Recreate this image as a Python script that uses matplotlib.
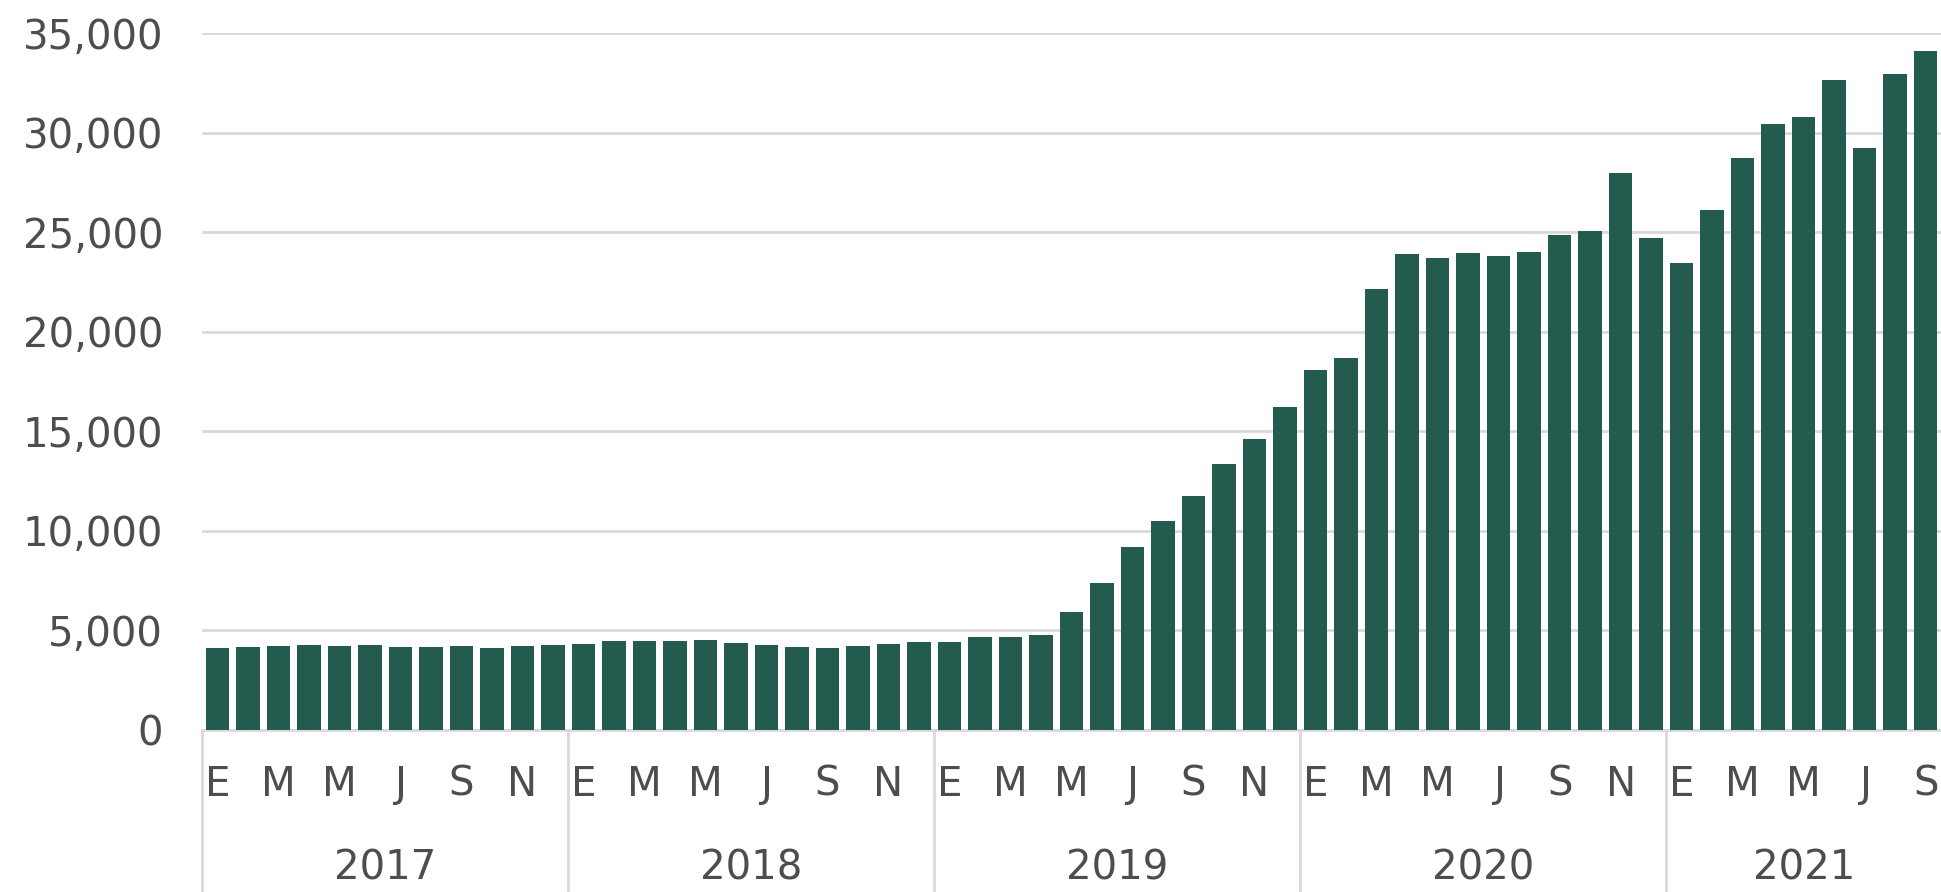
import matplotlib
matplotlib.use("Agg")
import matplotlib.pyplot as plt
import matplotlib.transforms as mtransforms

years = ["2017", "2018", "2019", "2020", "2021"]
month_letters = ["E", "F", "M", "A", "M", "J", "J", "A", "S", "O", "N", "D"]

v2017 = [4140, 4170, 4200, 4250, 4230, 4250, 4170, 4170, 4200, 4140, 4200, 4250]
v2018 = [4340, 4480, 4480, 4480, 4510, 4370, 4250, 4170, 4140, 4200, 4310, 4400]
v2019 = [4400, 4680, 4680, 4770, 5940, 7370, 9190, 10510, 11730, 13360, 14590, 16220]
v2020 = [18100, 18700, 22150, 23920, 23700, 23950, 23810, 23980, 24870, 25070, 27980, 24720]
v2021 = [23440, 26090, 28720, 30430, 30800, 32630, 29230, 32950, 34120]

yticks = [0, 5000, 10000, 15000, 20000, 25000, 30000, 35000]

values = v2017 + v2018 + v2019 + v2020 + v2021
year_lengths = [len(v2017), len(v2018), len(v2019), len(v2020), len(v2021)]

BAR = "#235B4E"
GRID = "#d9d9d9"
TXT = "#4d4d4d"
FS = 29

plt.rcParams["font.family"] = ["DejaVu Sans"]

fig = plt.figure(figsize=(19.41, 8.92), dpi=100)
ax = fig.add_axes([202 / 1941, 1 - 730 / 892, 1 - 202 / 1941, (730 - 33) / 892])

x = list(range(len(values)))
ax.bar(x, values, width=0.77, color=BAR, zorder=3)

ax.set_xlim(-0.5, len(values) - 0.5)
ax.set_ylim(0, 35000)
ax.set_yticks(yticks)
ax.set_yticklabels([f"{t:,}" for t in yticks], fontsize=FS, color=TXT)
ax.tick_params(axis="y", length=0, pad=28)
ax.set_xticks([])
ax.yaxis.grid(True, color=GRID, linewidth=2, zorder=0)
for s in ["top", "right", "left"]:
    ax.spines[s].set_visible(False)
ax.spines["bottom"].set_color(GRID)
ax.spines["bottom"].set_linewidth(2)

trans = mtransforms.blended_transform_factory(ax.transData, ax.transAxes)
ah = 730 - 33
y_month = -(785 - 730) / ah
y_year = -(868 - 730) / ah
y_bot = -(892 - 730) / ah

start = 0
for yr, n in zip(years, year_lengths):
    ax.plot([start - 0.5, start - 0.5], [0, y_bot], transform=trans, color=GRID,
            linewidth=2, clip_on=False)
    for m in range(0, n, 2):
        ax.text(start + m, y_month, month_letters[m], transform=trans, ha="center",
                va="center", fontsize=FS, color=TXT)
    ax.text(start + (n - 1) / 2, y_year, yr, transform=trans,
            ha="center", va="center", fontsize=FS, color=TXT)
    start += n

fig.savefig("out.png", dpi=100)
